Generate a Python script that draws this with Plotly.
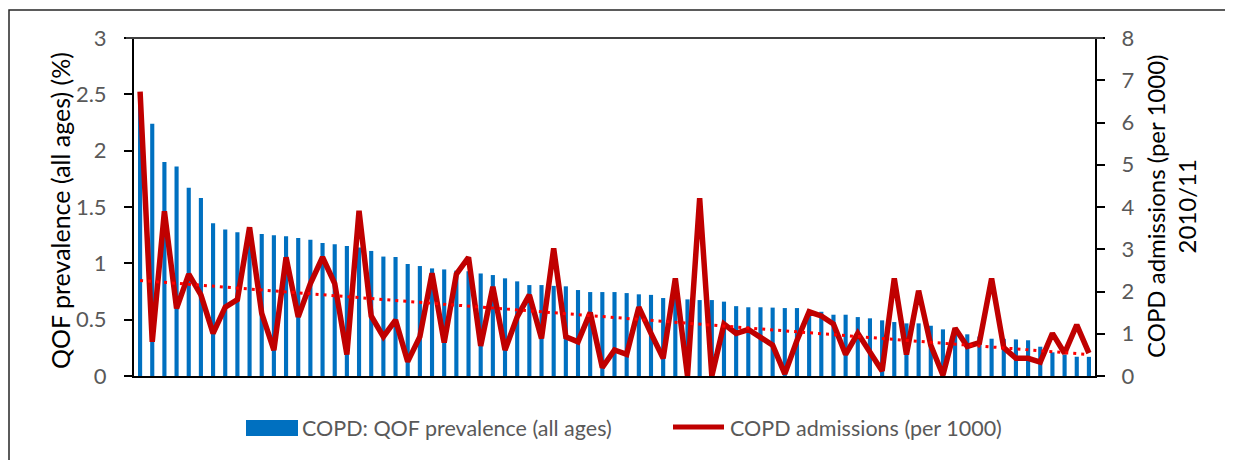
import numpy as np
import plotly.graph_objects as go

# ---- data ----
areas = list(range(1, 80))
prevalence = [2.50, 2.24, 1.90, 1.86, 1.67, 1.58, 1.355, 1.30, 1.275, 1.265,
              1.26, 1.25, 1.24, 1.225, 1.21, 1.18, 1.17, 1.153, 1.14, 1.11,
              1.06, 1.056, 0.994, 0.976, 0.955, 0.946, 0.935, 0.93, 0.91, 0.896,
              0.867, 0.84, 0.807, 0.807, 0.80, 0.796, 0.763, 0.745, 0.745, 0.745,
              0.736, 0.725, 0.72, 0.692, 0.69, 0.68, 0.674, 0.674, 0.66, 0.62,
              0.61, 0.61, 0.607, 0.603, 0.603, 0.585, 0.57, 0.544, 0.544, 0.523,
              0.512, 0.494, 0.479, 0.467, 0.467, 0.446, 0.414, 0.38, 0.37, 0.35,
              0.331, 0.33, 0.325, 0.317, 0.26, 0.21, 0.19, 0.171, 0.17]
admissions = [6.73, 0.81, 3.90, 1.60, 2.41, 1.92, 1.01, 1.63, 1.81, 3.52,
              1.48, 0.615, 2.81, 1.40, 2.19, 2.81, 2.19, 0.51, 3.91, 1.42,
              0.93, 1.325, 0.34, 0.93, 2.43, 0.79, 2.41, 2.81, 0.71, 2.11,
              0.615, 1.40, 1.92, 0.89, 3.02, 0.93, 0.81, 1.50, 0.20, 0.615,
              0.51, 1.63, 1.01, 0.42, 2.31, 0.0, 4.21, 0.0, 1.23, 1.01,
              1.10, 0.915, 0.73, 0.05, 0.84, 1.52, 1.42, 1.23, 0.51, 1.01,
              0.54, 0.12, 2.31, 0.51, 2.02, 0.73, 0.02, 1.13, 0.70, 0.79,
              2.31, 0.67, 0.42, 0.42, 0.33, 1.01, 0.54, 1.21, 0.54]
left_ticks = [0, 0.5, 1, 1.5, 2, 2.5, 3]
left_ticklabels = ["0", "0.5", "1", "1.5", "2", "2.5", "3"]
right_ticks = list(range(0, 9))

bar_name = "COPD: QOF prevalence (all ages)"
line_name = "COPD admissions (per 1000)"
left_title = "QOF prevalence (all ages) (%)"
right_title = "COPD admissions (per 1000)<br>2010/11"

# linear trendline of admissions
xi = np.arange(len(admissions))
slope, intercept = np.polyfit(xi, admissions, 1)
trend = slope * xi + intercept

FONT = "Lato"
OFF = 8  # page body margin
W, H = 1233, 460
L, R, T, B = 134 - OFF, 1095 - OFF, 38 - OFF, 376 - OFF


def px_x(p):
    return (p - OFF - L) / (R - L)


def px_y(p):
    return (B - (p - OFF)) / (B - T)


fig = go.Figure()
fig.add_trace(go.Bar(x=areas, y=prevalence, name=bar_name, marker_color="#0070C0",
                     marker_line_width=0, showlegend=False))
fig.add_trace(go.Scatter(x=areas, y=admissions, name=line_name, yaxis="y2", mode="lines",
                         line=dict(color="#C00000", width=5.5), showlegend=False))
fig.add_trace(go.Scatter(x=areas, y=trend.tolist(), name="Linear (" + line_name + ")",
                         yaxis="y2", mode="lines",
                         line=dict(color="#FF0000", width=3, dash="3px,5px"), showlegend=False))

tickfont = dict(family=FONT, size=22, color="#595959")
fig.update_layout(
    width=W, height=H,
    margin=dict(l=L, r=W - R, t=T, b=H - B),
    paper_bgcolor="white", plot_bgcolor="white",
    bargap=0.66,
    xaxis=dict(range=[0.5, 79.5], showticklabels=False, ticks="", showgrid=False,
               showline=True, linecolor="black", linewidth=2, zeroline=False),
    yaxis=dict(range=[0, 3], tickvals=left_ticks, ticktext=left_ticklabels, showgrid=False,
               showline=True, linecolor="black", linewidth=2, ticks="outside", ticklen=8,
               tickwidth=2, tickcolor="black", tickfont=tickfont, zeroline=False,
               ticklabelstandoff=13),
    yaxis2=dict(range=[0, 8], tickvals=right_ticks, overlaying="y", side="right", showgrid=False,
                showline=True, linecolor="black", linewidth=2, ticks="outside", ticklen=8,
                tickwidth=2, tickcolor="black", tickfont=tickfont, zeroline=False,
                ticklabelstandoff=12),
    showlegend=False,
)

shapes = []
# top line of plot area
shapes.append(dict(type="line", xref="paper", yref="paper", x0=px_x(126), x1=px_x(1103),
                   y0=1, y1=1, line=dict(color="#404040", width=2)))
# outer chart border (cut off at right and bottom)
shapes.append(dict(type="rect", xref="paper", yref="paper", x0=px_x(9), x1=px_x(1260),
                   y0=px_y(490), y1=px_y(10), line=dict(color="#262626", width=1.5),
                   fillcolor="rgba(0,0,0,0)", layer="below"))
# manual legend
shapes.append(dict(type="rect", xref="paper", yref="paper", x0=px_x(246), x1=px_x(298),
                   y0=px_y(436), y1=px_y(420), line=dict(width=0), fillcolor="#0070C0"))
shapes.append(dict(type="line", xref="paper", yref="paper", x0=px_x(673), x1=px_x(724),
                   y0=px_y(427), y1=px_y(427), line=dict(color="#C00000", width=5)))

annotations = [
    dict(text=bar_name, xref="paper", yref="paper", x=px_x(300), y=px_y(428),
         xanchor="left", yanchor="middle", showarrow=False,
         font=dict(family=FONT, size=21.5, color="#595959")),
    dict(text=line_name, xref="paper", yref="paper", x=px_x(728), y=px_y(428),
         xanchor="left", yanchor="middle", showarrow=False,
         font=dict(family=FONT, size=21.5, color="#595959")),
    dict(text=left_title, xref="paper", yref="paper", x=px_x(60), y=px_y(211),
         xanchor="center", yanchor="middle", showarrow=False, textangle=-90,
         font=dict(family=FONT, size=25, color="black")),
    dict(text=right_title, xref="paper", yref="paper", x=px_x(1171), y=px_y(207),
         xanchor="center", yanchor="middle", showarrow=False, textangle=-90,
         font=dict(family=FONT, size=24, color="black")),
]
fig.update_layout(shapes=shapes, annotations=annotations)

fig.write_html("out.html")
